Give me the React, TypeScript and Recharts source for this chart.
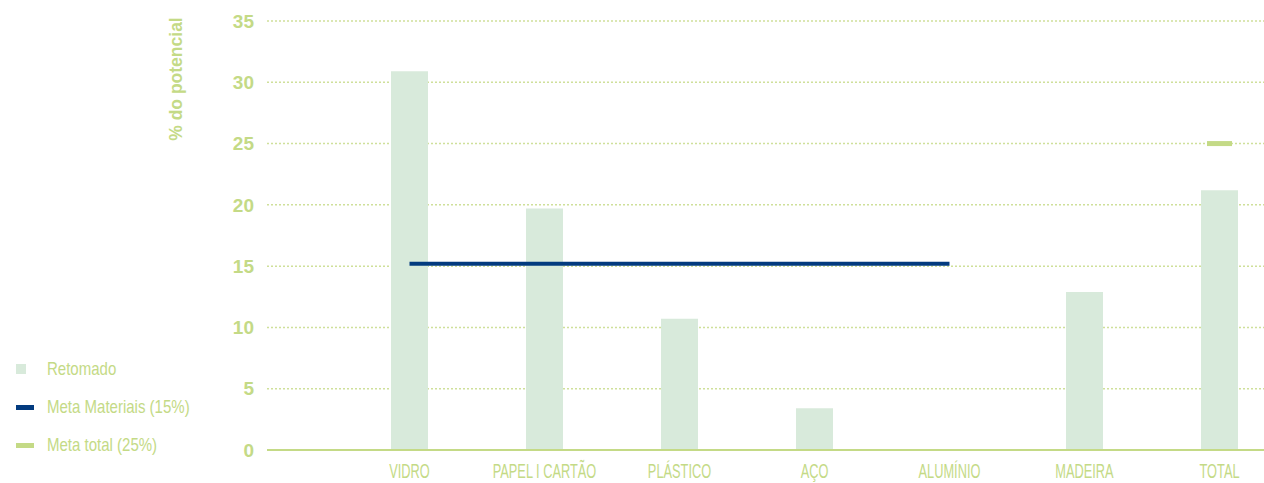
import React from 'react';
import { ComposedChart, Bar, Line, XAxis, YAxis, CartesianGrid, Legend } from 'recharts';

document.body.style.margin = '0';

// values
const categories = ['VIDRO', 'PAPEL I CARTÃO', 'PLÁSTICO', 'AÇO', 'ALUMÍNIO', 'MADEIRA', 'TOTAL'];
const retomado = [30.9, 19.7, 10.7, 3.4, 0, 12.9, 21.2];
const metaMateriais = [15.2, 15.2, 15.2, 15.2, 15.2, null, null];
const metaTotal = [null, null, null, null, null, null, 25];
const yTicks = [0, 5, 10, 15, 20, 25, 30, 35];
const legendOrder = ['retomado', 'metaMateriais', 'metaTotal'];

const LIME = '#c4da86';
const BAR = '#d8eadb';
const BLUE = '#033b7f';
const SANS = "'Liberation Sans', Arial, sans-serif";

const TotalMark = (props: any) => {
  const { cx, cy, value, index } = props;
  if (value == null || cx == null || cy == null) return <g key={`m-${index}`} />;
  return <rect key={`m-${index}`} x={cx - 12.5} y={cy - 2.5} width={25} height={5} fill={LIME} />;
};

// condensed look: Arial squeezed horizontally
const CategoryTick = (props: any) => {
  const { x, y, payload } = props;
  return (
    <text
      transform={`translate(${x},${y}) scale(0.64,1)`}
      textAnchor="middle"
      fill={LIME}
      fontFamily={SANS}
      fontSize={20}
      y={12}
    >
      {payload.value}
    </text>
  );
};

const renderLegend = (props: any) => {
  const payload = [...(props.payload || [])].sort(
    (a: any, b: any) => legendOrder.indexOf(a.dataKey) - legendOrder.indexOf(b.dataKey)
  );
  return (
    <div style={{ display: 'flex', flexDirection: 'column' }}>
      {payload.map((entry: any) => {
        const isBar = entry.dataKey === 'retomado';
        return (
          <div key={entry.value} style={{ display: 'flex', alignItems: 'center', height: 38 }}>
            <div style={{ width: 31, display: 'flex', alignItems: 'center' }}>
              {isBar ? (
                <div style={{ width: 10, height: 10, background: BAR }} />
              ) : (
                <div style={{ width: 18, height: 5, background: entry.color }} />
              )}
            </div>
            <span
              style={{
                color: LIME,
                fontFamily: SANS,
                fontSize: 19,
                whiteSpace: 'nowrap',
                display: 'inline-block',
                transform: 'scaleX(0.79)',
                transformOrigin: 'left center',
              }}
            >
              {entry.value}
            </span>
          </div>
        );
      })}
    </div>
  );
};

export default function App() {
  const data = categories.map((name, i) => ({
    name,
    retomado: retomado[i],
    metaMateriais: metaMateriais[i],
    metaTotal: metaTotal[i],
  }));

  return (
    <ComposedChart width={1264} height={483} data={data} margin={{ top: 21, right: 0, bottom: 0, left: 0 }}>
      <CartesianGrid vertical={false} stroke="#cfe09a" strokeWidth={1.5} strokeDasharray="2 2" />
      <XAxis
        dataKey="name"
        interval={0}
        height={33}
        padding={{ left: 75, right: -23 }}
        axisLine={{ stroke: LIME, strokeWidth: 2 }}
        tickLine={false}
        tickSize={0}
        tickMargin={16}
        tick={<CategoryTick />}
      />
      <YAxis
        width={267}
        domain={[0, 35]}
        ticks={yTicks}
        axisLine={false}
        tickLine={false}
        tickSize={0}
        tickMargin={13}
        tick={{ fill: LIME, fontFamily: SANS, fontWeight: 'bold', fontSize: 19 }}
        label={{
          content: () => (
            <text
              x={176}
              y={79}
              transform="rotate(-90 176 79)"
              textAnchor="middle"
              dominantBaseline="central"
              fill={LIME}
              fontFamily={SANS}
              fontWeight="bold"
              fontSize={17.5}
            >
              % do potencial
            </text>
          ),
        }}
      />
      <Legend
        layout="horizontal"
        align="center"
        verticalAlign="middle"
        wrapperStyle={{ left: 16, top: 350, width: 220 }}
        content={renderLegend}
      />
      <Bar dataKey="retomado" name="Retomado" fill={BAR} barSize={37} isAnimationActive={false} />
      <Line
        dataKey="metaMateriais"
        name="Meta Materiais (15%)"
        stroke={BLUE}
        strokeWidth={4}
        dot={false}
        activeDot={false}
        isAnimationActive={false}
      />
      <Line
        dataKey="metaTotal"
        name="Meta total (25%)"
        stroke={LIME}
        strokeWidth={0}
        dot={TotalMark}
        activeDot={false}
        isAnimationActive={false}
      />
    </ComposedChart>
  );
}
